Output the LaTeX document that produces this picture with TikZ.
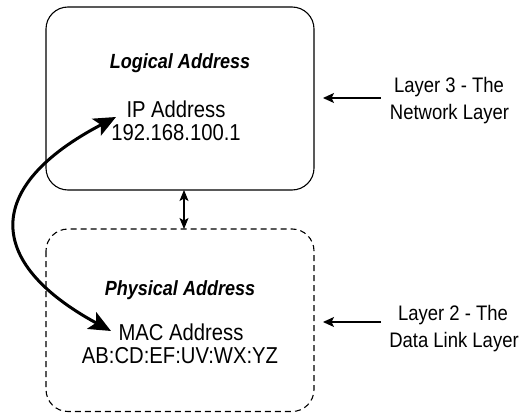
\documentclass[tikz,border=0pt]{standalone}
\usepackage{fontspec}
\setmainfont[FakeStretch=0.88]{Liberation Sans}
\usetikzlibrary{arrows.meta}
\begin{document}
\begin{tikzpicture}[x=1pt,y=-1pt,
  boxsolid/.style={draw, line width=1.1pt, rounded corners=22pt},
  boxdash/.style={draw, line width=1.1pt, rounded corners=22pt, dash pattern=on 6pt off 4pt},
  ttl/.style={anchor=base, inner sep=0pt, font=\fontsize{20.5}{24}\selectfont\bfseries\itshape},
  txt/.style={anchor=base, inner sep=0pt, font=\fontsize{23}{27}\selectfont},
  lbl/.style={anchor=base, inner sep=0pt, font=\fontsize{21}{25}\selectfont},
  bigarrow/.style={line width=3pt, {Stealth[length=22pt,width=19pt,inset=5pt]}-{Stealth[length=22pt,width=19pt,inset=5pt]}},
  smallarrow/.style={line width=1.1pt, {Stealth[length=11pt,width=9pt,inset=2.5pt]}-{Stealth[length=11pt,width=9pt,inset=2.5pt]}},
  sidearrow/.style={line width=1.4pt, -{Stealth[length=11pt,width=10pt,inset=2.5pt]}}
]
\useasboundingbox (0,0) rectangle (519,414);
\draw[boxsolid] (46,7) rectangle (314,190);
\draw[boxdash] (46,229) rectangle (314,411.5);
\coordinate (topb) at (184,190);
\coordinate (botb) at (184,229);
\coordinate (topr) at (323,98);
\coordinate (botr) at (323,322);
\coordinate (ipend) at (116,117);
\coordinate (macend) at (111,331);

\node[ttl] (logical) at (180,69) {Logical Address};
\node[txt] (ip) at (176,118) {IP Address};
\node[txt] (ipnum) at (176,141) {192.168.100.1};
\node[ttl] (physical) at (180,295) {Physical Address};
\node[txt] (mac) at (181,340) {MAC Address};
\node[txt] (macnum) at (180,363) {AB:CD:EF:UV:WX:YZ};

\node[lbl] (l3a) at (449,93) {Layer 3 - The};
\node[lbl] (l3b) at (449.5,120) {Network Layer};
\node[lbl] (l2a) at (453,320) {Layer 2 - The};
\node[lbl] (l2b) at (454,347) {Data Link Layer};

\draw[bigarrow] (macend) .. controls (-16,262) and (-16,186) .. (ipend);
\draw[smallarrow] (topb) -- (botb);
\draw[sidearrow] (l3a.base west |- topr) ++(-13,0) -- (topr);
\draw[sidearrow] (l2b.base west |- botr) ++(-8,0) -- (botr);
\end{tikzpicture}
\end{document}
